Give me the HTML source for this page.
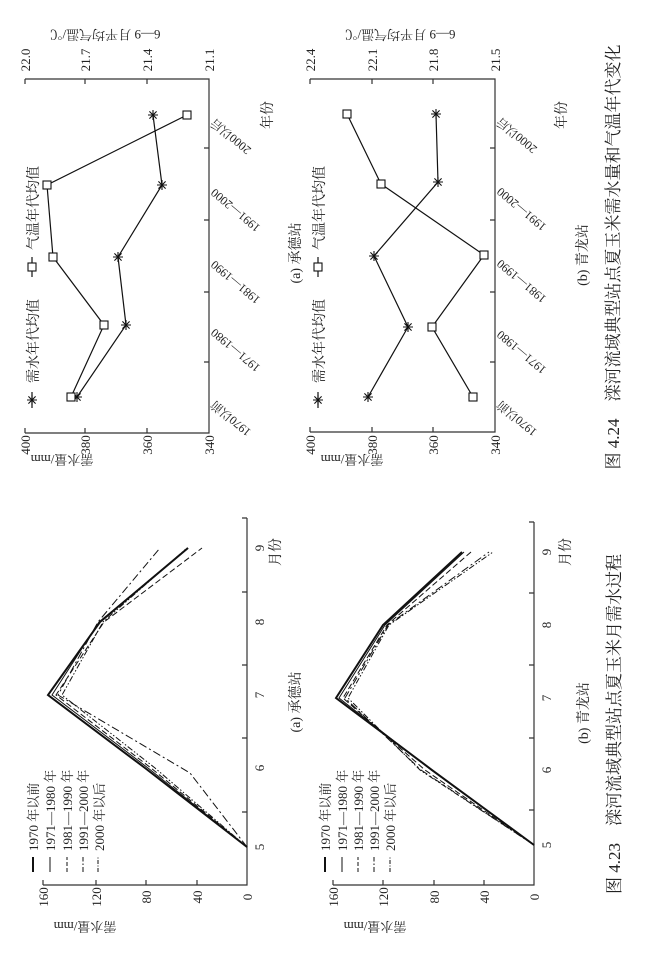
<!DOCTYPE html>
<html><head><meta charset="utf-8"><style>
html,body{margin:0;padding:0;background:#fff;}
svg{display:block;}
text{font-family:"Liberation Serif","Noto Serif CJK SC","Noto Sans CJK SC",serif;fill:#222;}
.cj{font-family:"Liberation Serif","Noto Serif CJK SC",serif;}
</style></head><body>
<svg width="648" height="961" viewBox="0 0 648 961" xmlns="http://www.w3.org/2000/svg">
<defs>
<g id="st"><path d="M-5 0H5M0 -5V5M-3.6 -3.6L3.6 3.6M-3.6 3.6L3.6 -3.6" stroke="#111" stroke-width="1.1"/></g>
<g id="sq"><rect x="-4" y="-4" width="8" height="8" fill="#fff" stroke="#111" stroke-width="1.1"/></g>
</defs>
<g stroke="#333" stroke-width="1.2" fill="none">
<!-- top-left frame -->
<path d="M25 79H209V433H25"/>
<path d="M25 79v5M85 79v5M147 79v5M25 433v-5M85 433v-5M147 433v-5M209 362h-5M209 292h-5M209 220h-5M209 148h-5"/>
<!-- top-right frame -->
<path d="M310 79H495V432H310"/>
<path d="M310 79v5M372 79v5M433 79v5M310 432v-5M372 432v-5M433 432v-5M495 362h-5M495 292h-5M495 220h-5M495 148h-5"/>
<!-- bottom-left axes -->
<path d="M43 885H247V518"/>
<path d="M43 885v-5M96 885v-5M146 885v-5M197 885v-5M247 812h-5M247 738h-5M247 665h-5M247 592h-5M247 518h-5"/>
<!-- bottom-right axes -->
<path d="M333 885H534V522"/>
<path d="M333 885v-5M383 885v-5M434 885v-5M484 885v-5M534 810h-5M534 738h-5M534 665h-5M534 593h-5M534 522h-5"/>
</g>
<!-- top-left series -->
<g stroke="#111" stroke-width="1.2" fill="none">
<polyline points="77,397 126,325 118,257 162,185 153,115"/>
<polyline points="71,397 104,325 53,257 47,185 187,115"/>
<polyline points="368,397 408,327 374,256 438,182 436,114"/>
<polyline points="473,397 432,327 484,255 381,184 347,114"/>
<path d="M32 408V392M32 277V257M318 408V392M318 277V257"/>
</g>
<use href="#st" x="77" y="397"/><use href="#st" x="126" y="325"/><use href="#st" x="118" y="257"/><use href="#st" x="162" y="185"/><use href="#st" x="153" y="115"/>
<use href="#sq" x="71" y="397"/><use href="#sq" x="104" y="325"/><use href="#sq" x="53" y="257"/><use href="#sq" x="47" y="185"/><use href="#sq" x="187" y="115"/>
<use href="#st" x="368" y="397"/><use href="#st" x="408" y="327"/><use href="#st" x="374" y="256"/><use href="#st" x="438" y="182"/><use href="#st" x="436" y="114"/>
<use href="#sq" x="473" y="397"/><use href="#sq" x="432" y="327"/><use href="#sq" x="484" y="255"/><use href="#sq" x="381" y="184"/><use href="#sq" x="347" y="114"/>
<use href="#st" x="32" y="400"/><use href="#sq" x="32" y="267"/>
<use href="#st" x="318" y="400"/><use href="#sq" x="318" y="267"/>
<!-- legend texts top -->
<g font-size="14">
<text transform="translate(38,383) rotate(-90)">需水年代均值</text>
<text transform="translate(38,250) rotate(-90)">气温年代均值</text>
<text transform="translate(324,383) rotate(-90)">需水年代均值</text>
<text transform="translate(324,250) rotate(-90)">气温年代均值</text>
</g>
<!-- tick labels top-left -->
<g font-size="13" text-anchor="middle">
<text transform="translate(30,445) rotate(-90)">400</text>
<text transform="translate(90,445) rotate(-90)">380</text>
<text transform="translate(152,445) rotate(-90)">360</text>
<text transform="translate(214,445) rotate(-90)">340</text>
<text transform="translate(30,60) rotate(-90)">22.0</text>
<text transform="translate(90,60) rotate(-90)">21.7</text>
<text transform="translate(152,60) rotate(-90)">21.4</text>
<text transform="translate(214,60) rotate(-90)">21.1</text>
<text transform="translate(315,445) rotate(-90)">400</text>
<text transform="translate(377,445) rotate(-90)">380</text>
<text transform="translate(438,445) rotate(-90)">360</text>
<text transform="translate(500,445) rotate(-90)">340</text>
<text transform="translate(315,60) rotate(-90)">22.4</text>
<text transform="translate(377,60) rotate(-90)">22.1</text>
<text transform="translate(438,60) rotate(-90)">21.8</text>
<text transform="translate(500,60) rotate(-90)">21.5</text>
<text transform="translate(62,455) rotate(180)">需水量/mm</text>
<text transform="translate(105,30) rotate(180)">6—9 月平均气温/℃</text>
<text transform="translate(352,455) rotate(180)">需水量/mm</text>
<text transform="translate(400,30) rotate(180)">6—9 月平均气温/℃</text>
</g>
<!-- category labels -->
<g font-size="12" text-anchor="end">
<text transform="translate(215,400) rotate(-140)">1970以前</text>
<text transform="translate(215,328) rotate(-140)">1971—1980</text>
<text transform="translate(215,260) rotate(-140)">1981—1990</text>
<text transform="translate(215,188) rotate(-140)">1991—2000</text>
<text transform="translate(215,118) rotate(-140)">2000以后</text>
<text transform="translate(501,400) rotate(-140)">1970以前</text>
<text transform="translate(501,330) rotate(-140)">1971—1980</text>
<text transform="translate(501,259) rotate(-140)">1981—1990</text>
<text transform="translate(501,187) rotate(-140)">1991—2000</text>
<text transform="translate(501,117) rotate(-140)">2000以后</text>
</g>
<g font-size="14" text-anchor="middle">
<text transform="translate(272,115) rotate(-90)">年份</text>
<text transform="translate(300,253) rotate(-90)">(a) 承德站</text>
<text transform="translate(566,115) rotate(-90)">年份</text>
<text transform="translate(587,255) rotate(-90)">(b) 青龙站</text>
<text transform="translate(619,257) rotate(-90)" font-size="17">图 4.24　滦河流域典型站点夏玉米需水量和气温年代变化</text>
<text transform="translate(300,702) rotate(-90)">(a) 承德站</text>
<text transform="translate(588,713) rotate(-90)">(b) 青龙站</text>
<text transform="translate(620,724) rotate(-90)" font-size="17">图 4.23　滦河流域典型站点夏玉米月需水过程</text>
<text transform="translate(280,552) rotate(-90)">月份</text>
<text transform="translate(570,552) rotate(-90)">月份</text>
</g>
<!-- month series -->
<g fill="none" stroke="#111">
<polyline stroke-width="2" points="247,847 145,768 48,695 100,622 188,548"/>
<polyline stroke-width="1" points="247,847 148,768 52,695 99,622 188,548"/>
<polyline stroke-width="1" stroke-dasharray="6,3" points="247,847 151,768 56,695 104,622 202,548"/>
<polyline stroke-width="1" stroke-dasharray="8,3,2,3" points="247,847 190,773 58,695 98,622 160,548"/>
<polyline stroke-width="1" stroke-dasharray="6,2,1.5,2,1.5,2" points="247,847 155,768 62,695 103,622 187,548"/>
<polyline stroke-width="2" points="534,845 432,770 336,698 383,625 462,552"/>
<polyline stroke-width="1" points="534,845 431,770 339,698 385,625 464,552"/>
<polyline stroke-width="1" stroke-dasharray="6,3" points="534,845 425,770 343,698 387,625 471,552"/>
<polyline stroke-width="1" stroke-dasharray="8,3,2,3" points="534,845 421,770 345,698 388,625 489,552"/>
<polyline stroke-width="1" stroke-dasharray="6,2,1.5,2,1.5,2" points="534,845 420,770 348,698 389,625 493,552"/>
<!-- legends -->
<path stroke-width="2" d="M33 872V857"/>
<path stroke-width="1" d="M50 872V857"/>
<path stroke-width="1" stroke-dasharray="4,2" d="M67 872V857"/>
<path stroke-width="1" stroke-dasharray="5,2,1.5,2" d="M83 872V857"/>
<path stroke-width="1" stroke-dasharray="4,1.5,1,1.5" d="M98 872V857"/>
<path stroke-width="2" d="M325 872V857"/>
<path stroke-width="1" d="M342 872V857"/>
<path stroke-width="1" stroke-dasharray="4,2" d="M358 872V857"/>
<path stroke-width="1" stroke-dasharray="5,2,1.5,2" d="M374 872V857"/>
<path stroke-width="1" stroke-dasharray="4,1.5,1,1.5" d="M390 872V857"/>
</g>
<g font-size="13">
<text transform="translate(38,851) rotate(-90)">1970 年以前</text>
<text transform="translate(55,851) rotate(-90)">1971—1980 年</text>
<text transform="translate(72,851) rotate(-90)">1981—1990 年</text>
<text transform="translate(88,851) rotate(-90)">1991—2000 年</text>
<text transform="translate(104,851) rotate(-90)">2000 年以后</text>
<text transform="translate(330,851) rotate(-90)">1970 年以前</text>
<text transform="translate(347,851) rotate(-90)">1971—1980 年</text>
<text transform="translate(363,851) rotate(-90)">1981—1990 年</text>
<text transform="translate(379,851) rotate(-90)">1991—2000 年</text>
<text transform="translate(395,851) rotate(-90)">2000 年以后</text>
</g>
<g font-size="13" text-anchor="middle">
<text transform="translate(48,897) rotate(-90)">160</text>
<text transform="translate(101,897) rotate(-90)">120</text>
<text transform="translate(151,897) rotate(-90)">80</text>
<text transform="translate(202,897) rotate(-90)">40</text>
<text transform="translate(252,897) rotate(-90)">0</text>
<text transform="translate(338,897) rotate(-90)">160</text>
<text transform="translate(388,897) rotate(-90)">120</text>
<text transform="translate(439,897) rotate(-90)">80</text>
<text transform="translate(489,897) rotate(-90)">40</text>
<text transform="translate(539,897) rotate(-90)">0</text>
<text transform="translate(85,922) rotate(180)">需水量/mm</text>
<text transform="translate(375,922) rotate(180)">需水量/mm</text>
<text transform="translate(264,847) rotate(-90)">5</text>
<text transform="translate(264,768) rotate(-90)">6</text>
<text transform="translate(264,695) rotate(-90)">7</text>
<text transform="translate(264,622) rotate(-90)">8</text>
<text transform="translate(264,548) rotate(-90)">9</text>
<text transform="translate(551,845) rotate(-90)">5</text>
<text transform="translate(551,770) rotate(-90)">6</text>
<text transform="translate(551,698) rotate(-90)">7</text>
<text transform="translate(551,625) rotate(-90)">8</text>
<text transform="translate(551,552) rotate(-90)">9</text>
</g>
</svg>
</body></html>
